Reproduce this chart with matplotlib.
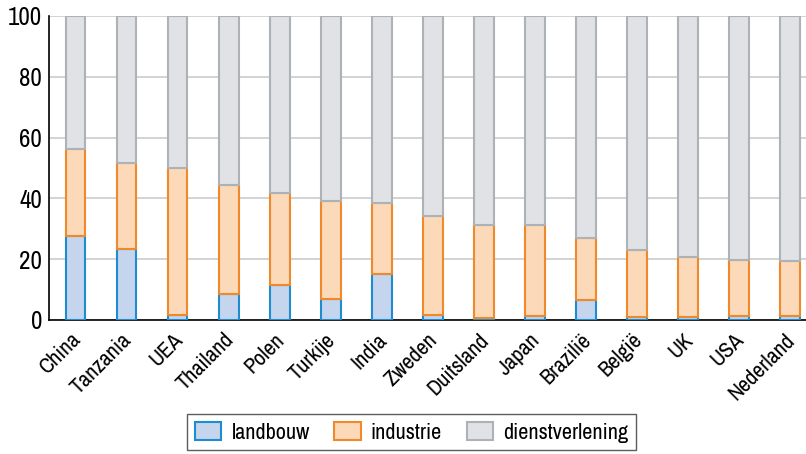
import numpy as np
import matplotlib
matplotlib.use('Agg')
import matplotlib.pyplot as plt
import matplotlib.transforms as mtransforms
from matplotlib.patches import Patch

plt.rcParams['font.family'] = ['Archivo Narrow', 'DejaVu Sans']

landen = ['China', 'Tanzania', 'UEA', 'Thailand', 'Polen', 'Turkije', 'India', 'Zweden',
          'Duitsland', 'Japan', 'Brazilië', 'België', 'UK', 'USA', 'Nederland']
landbouw = [27.6, 23.5, 1.5, 8.5, 11.6, 7.0, 15.2, 1.5, 0.8, 1.2, 6.7, 0.9, 0.9, 1.3, 1.2]
industrie_top = [56.1, 51.5, 49.9, 44.4, 41.7, 39.1, 38.6, 34.3, 31.1, 31.2, 26.9, 22.9, 20.6, 19.8, 19.3]
industrie = [t - l for t, l in zip(industrie_top, landbouw)]
dienstverlening = [100 - t for t in industrie_top]

kleur = {
    'landbouw': ('#c5d5ee', '#1f8ccf'),
    'industrie': ('#fcd9b8', '#ee8a2c'),
    'dienstverlening': ('#e0e2e6', '#adb2b7'),
}

fig = plt.figure(figsize=(8.06, 4.54), dpi=100)
ax = fig.add_axes([0.0608, 0.2952, 0.9392, 0.6696])

x = np.arange(len(landen))
w = 0.39
ax.bar(x, landbouw, w, color=kleur['landbouw'][0], edgecolor=kleur['landbouw'][1], linewidth=1.5, zorder=3)
ax.bar(x, industrie, w, bottom=landbouw, color=kleur['industrie'][0], edgecolor=kleur['industrie'][1], linewidth=1.5, zorder=3)
ax.bar(x, dienstverlening, w, bottom=industrie_top, color=kleur['dienstverlening'][0],
       edgecolor=kleur['dienstverlening'][1], linewidth=1.5, zorder=3)

ax.set_xlim(-0.52, 14.32)
ax.set_ylim(0, 100)
ax.set_yticks([0, 20, 40, 60, 80, 100])
ax.yaxis.grid(True, color='#cccccc', linewidth=1.2, zorder=0)
ax.set_xticks(x)
ax.set_xticklabels(landen, rotation=45, ha='right', rotation_mode='anchor', fontsize=16)
ax.tick_params(axis='y', length=0, labelsize=18, pad=5)
ax.tick_params(axis='x', length=0, pad=7)
# schuif de landnamen iets naar links
shift = mtransforms.ScaledTranslation(-5 / 100, 0, fig.dpi_scale_trans)
for lbl in ax.get_xticklabels():
    lbl.set_transform(lbl.get_transform() + shift)
for s in ['top', 'right']:
    ax.spines[s].set_visible(False)
ax.spines['left'].set_linewidth(1.2)
ax.spines['bottom'].set_linewidth(1.2)

handles = [Patch(facecolor=kleur[k][0], edgecolor=kleur[k][1], linewidth=1.5, label=k)
           for k in ['landbouw', 'industrie', 'dienstverlening']]
leg = fig.legend(handles=handles, loc='upper center', bbox_to_anchor=(0.5106, 0.088), ncol=3,
                 fontsize=16, frameon=True, fancybox=False, edgecolor='#333333',
                 handlelength=1.2, handleheight=0.9, handletextpad=0.45, columnspacing=1.1,
                 borderpad=0.35, borderaxespad=0)
leg.get_frame().set_linewidth(1.0)

fig.savefig('out.png', dpi=100)
